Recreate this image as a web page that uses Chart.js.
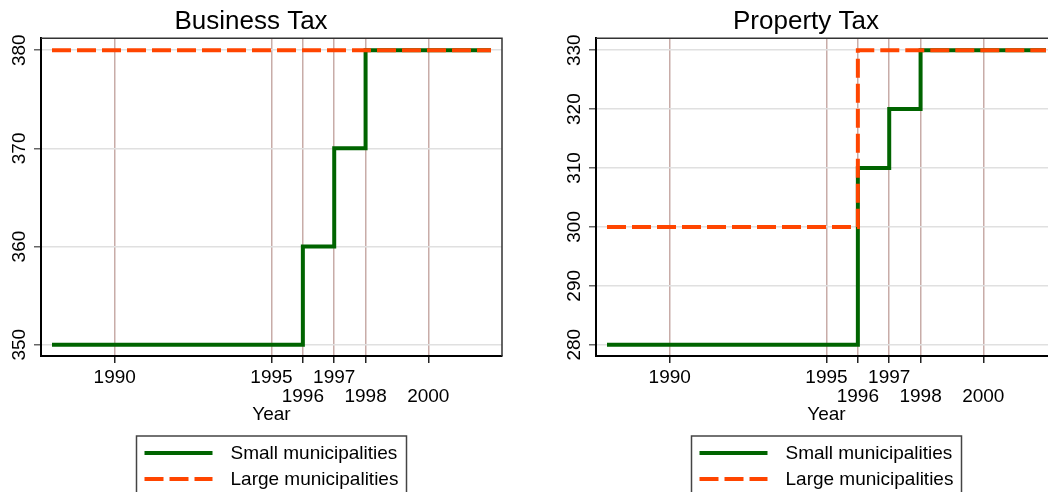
<!DOCTYPE html>
<html>
<head>
<meta charset="utf-8">
<script src="https://cdn.jsdelivr.net/npm/chart.js@4.4.0/dist/chart.umd.min.js"></script>
<style>
  html, body { margin: 0; padding: 0; background: #fff; overflow: hidden; }
  #wrap { position: relative; width: 1048px; height: 492px; overflow: hidden; }
  canvas { position: absolute; top: 0; }
  #left { left: 0; }
  #right { left: 555px; }
</style>
</head>
<body>
<div id="wrap">
  <canvas id="left" width="555" height="492"></canvas>
  <canvas id="right" width="555" height="492"></canvas>
</div>
<script>
'use strict';

// **************************** DATA ****************************

let years = [1988, 1989, 1990, 1991, 1992, 1993, 1994, 1995, 1996, 1997, 1998, 1999, 2000, 2001, 2002];

let businessSmall = [350, 350, 350, 350, 350, 350, 350, 350, 360, 370, 380, 380, 380, 380, 380];
let businessLarge = [380, 380, 380, 380, 380, 380, 380, 380, 380, 380, 380, 380, 380, 380, 380];

let propertySmall = [280, 280, 280, 280, 280, 280, 280, 280, 310, 320, 330, 330, 330, 330, 330];
let propertyLarge = [300, 300, 300, 300, 300, 300, 300, 300, 330, 330, 330, 330, 330, 330, 330];

let seriesNames = ['Small municipalities', 'Large municipalities'];

let yearTicks = [1990, 1995, 1996, 1997, 1998, 2000];
let lowerRowYears = [1996, 1998, 2000]; // staggered onto second line
let businessTicks = [350, 360, 370, 380];
let propertyTicks = [280, 290, 300, 310, 320, 330];

// **************************** STYLE ****************************

const FONT = "'Liberation Sans', Arial, sans-serif";
const GREEN = '#006400';
const ORANGE = '#ff4500';
const DASH = [19, 6];

Chart.defaults.font.family = FONT;
Chart.defaults.color = '#000';

// top + right frame lines of the plot region
let frame = {
  id: 'frame',
  afterDraw(chart) {
    let c = chart.ctx;
    let a = chart.chartArea;
    c.save();
    c.strokeStyle = '#333';
    c.lineWidth = 1.5;
    c.beginPath();
    c.moveTo(a.left, a.top);
    c.lineTo(a.right, a.top);
    c.lineTo(a.right, a.bottom);
    c.stroke();
    c.restore();
  }
};

// stacked legend in a bordered box under the axis
let boxLegend = {
  id: 'boxLegend',
  afterDraw(chart) {
    let c = chart.ctx;
    let a = chart.chartArea;
    let boxLeft = (a.left + a.right) / 2 - 135;
    let boxTop = 436;
    c.save();
    c.strokeStyle = '#444';
    c.lineWidth = 1.5;
    c.strokeRect(boxLeft, boxTop, 270, 80);
    chart.data.datasets.forEach((ds, i) => {
      let y = 453 + i * 26;
      c.beginPath();
      c.setLineDash(ds.borderDash || []);
      c.strokeStyle = ds.borderColor;
      c.lineWidth = 4;
      c.moveTo(boxLeft + 8, y);
      c.lineTo(boxLeft + 76, y);
      c.stroke();
      c.setLineDash([]);
      c.fillStyle = '#000';
      c.font = '19px ' + FONT;
      c.textBaseline = 'middle';
      c.fillText(ds.label, boxLeft + 94, y + 1);
    });
    c.restore();
  }
};

// **************************** CHART ****************************

function makeChart(canvasId, title, small, large, yTicks, yMin, yMax) {
  let chartObj = {
    type: 'line',
    data: {
      labels: years,
      datasets: [{
        label: seriesNames[0],
        data: years.map((yr, i) => ({ x: yr, y: small[i] })),
        borderColor: GREEN,
        borderWidth: 4,
        stepped: true,
        pointRadius: 0,
        order: 1
      },
      {
        label: seriesNames[1],
        data: years.map((yr, i) => ({ x: yr, y: large[i] })),
        borderColor: ORANGE,
        borderWidth: 4,
        borderDash: DASH,
        stepped: true,
        pointRadius: 0,
        order: 0
      }]
    },
    options: {
      responsive: false,
      animation: false,
      devicePixelRatio: 1,
      layout: {
        padding: { left: 0, right: 53, top: 0, bottom: 68 }
      },
      plugins: {
        legend: { display: false },
        tooltip: { enabled: false },
        title: {
          display: true,
          text: title,
          color: '#000',
          font: { size: 26, weight: 'normal', lineHeight: 1.2 },
          padding: { top: 6, bottom: 1 }
        }
      },
      scales: {
        x: {
          type: 'linear',
          min: 1987.65,
          max: 2002.35,
          afterBuildTicks: (scale) => {
            scale.ticks = yearTicks.map(v => ({ value: v }));
          },
          afterFit: (scale) => {
            scale.height = 68;
          },
          grid: {
            color: '#c8aca8',
            lineWidth: 1.5,
            tickColor: '#222',
            tickLength: 7,
            tickWidth: 1.5
          },
          border: { color: '#000', width: 2 },
          ticks: {
            autoSkip: false,
            maxRotation: 0,
            padding: 5,
            font: { size: 19, lineHeight: 1 },
            callback: (v) => lowerRowYears.includes(v) ? ['', String(v)] : String(v)
          },
          title: {
            display: true,
            text: 'Year',
            font: { size: 19, lineHeight: 1 },
            padding: { top: 0, bottom: 0 }
          }
        },
        y: {
          min: yMin,
          max: yMax,
          afterBuildTicks: (scale) => {
            scale.ticks = yTicks.map(v => ({ value: v }));
          },
          afterFit: (scale) => {
            scale.width = 41;
          },
          grid: {
            color: '#e0e0e0',
            lineWidth: 1.5,
            tickColor: '#666',
            tickLength: 7,
            tickWidth: 1.5
          },
          border: { color: '#000', width: 2 },
          ticks: {
            minRotation: 90,
            maxRotation: 90,
            crossAlign: 'center',
            padding: -2,
            font: { size: 19 }
          }
        }
      }
    },
    plugins: [frame, boxLegend]
  };

  return new Chart(document.getElementById(canvasId), chartObj);
}

makeChart('left', 'Business Tax', businessSmall, businessLarge, businessTicks, 348.85, 381.22);
makeChart('right', 'Property Tax', propertySmall, propertyLarge, propertyTicks, 278.08, 332.04);
</script>
</body>
</html>
